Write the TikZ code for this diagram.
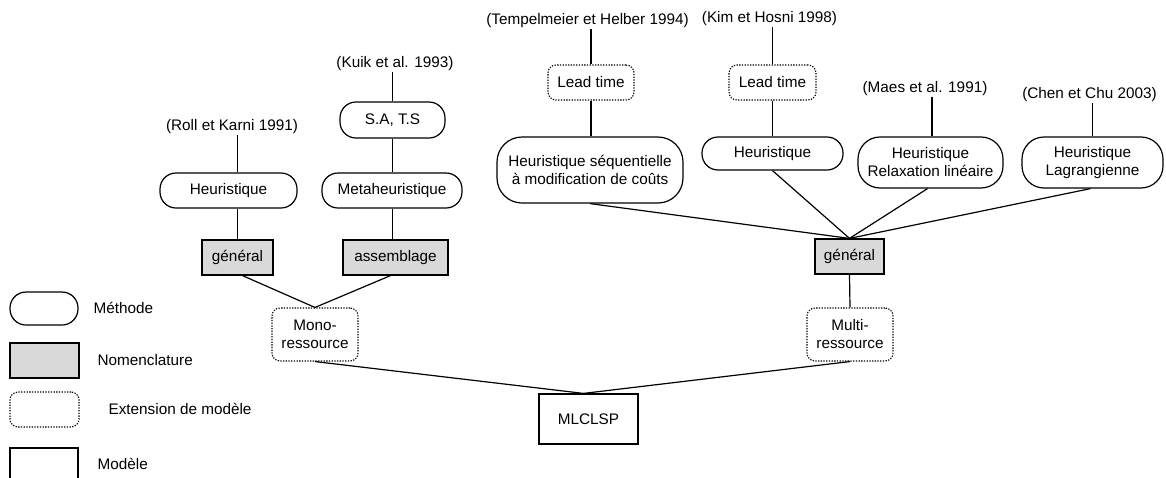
\documentclass[tikz,border=0pt]{standalone}
\usepackage{fontspec}
\setmainfont{Liberation Sans}
\begin{document}
\begin{tikzpicture}[x=1pt,y=-1pt,line width=1.2pt,
  every node/.style={font=\fontsize{15.3}{18}\selectfont, inner sep=0pt, align=center},
  meth/.style={draw, rectangle, rounded corners=16pt},
  nomen/.style={draw, rectangle, fill=gray!30},
  ext/.style={draw, rectangle, rounded corners=8pt, line width=1.1pt, dash pattern=on 1.3pt off 1.4pt},
  modl/.style={draw, rectangle},
  refn/.style={inner sep=0.5pt},
  lab/.style={anchor=west}]
\clip (0,0) rectangle (1166,477);
\fill[white] (0,0) rectangle (1166,477);
% legend
\node[meth, minimum width=68pt, minimum height=33pt] (lm) at (44,308.5) {};
\node[lab] (lmt) at (93,308) {Méthode};
\node[nomen, minimum width=69pt, minimum height=35pt] (ln) at (44.5,360.5) {};
\node[lab] (lnt) at (97,360) {Nomenclature};
\node[ext, minimum width=69pt, minimum height=35pt] (le) at (44.5,409.5) {};
\node[lab] (let) at (108,409) {Extension de modèle};
\node[modl, minimum width=68pt, minimum height=50pt] (lmo) at (44,473) {};
\node[lab] (lmot) at (97,464) {Modèle};
% left branch
\node[refn] (r1) at (232,127) {(Roll et Karni 1991)};
\node[meth, minimum width=137pt, minimum height=35pt] (h1) at (228.5,190.5) {Heuristique};
\node[nomen, minimum width=71pt, minimum height=35pt] (g1) at (237.5,257.5) {général};
\node[refn] (k1) at (395,63.5) {(Kuik et al. 1993)};
\node[meth, minimum width=105pt, minimum height=36pt] (s1) at (392.5,120) {S.A, T.S};
\node[meth, minimum width=140pt, minimum height=35pt] (m1) at (392,190.5) {Metaheuristique};
\node[nomen, minimum width=105pt, minimum height=35pt] (a1) at (395.5,257.5) {assemblage};
\node[ext, minimum width=86pt, minimum height=53pt] (mono) at (315,334.5) {Mono-\\ressource};
\node[modl, minimum width=99pt, minimum height=50pt] (ml) at (588.5,419) {MLCLSP};
% right branch
\node[refn] (tem) at (587.5,20.5) {(Tempelmeier et Helber 1994)};
\node[ext, minimum width=86pt, minimum height=35pt] (lt1) at (591,82.5) {Lead time};
\node[meth, rounded corners=25pt, minimum width=186pt, minimum height=66pt] (hs) at (590,170) {Heuristique séquentielle\\à modification de coûts};
\node[refn] (kim) at (769.5,19) {(Kim et Hosni 1998)};
\node[ext, minimum width=87pt, minimum height=35pt] (lt2) at (772.5,82.5) {Lead time};
\node[meth, minimum width=141pt, minimum height=33pt] (h2) at (772.5,153.5) {Heuristique};
\node[refn] (maes) at (925,88.5) {(Maes et al. 1991)};
\node[meth, rounded corners=22pt, minimum width=145pt, minimum height=51pt] (hr) at (930.5,162.5) {Heuristique\\Relaxation linéaire};
\node[refn] (chen) at (1089.5,95) {(Chen et Chu 2003)};
\node[meth, rounded corners=22pt, minimum width=141pt, minimum height=51pt] (hl) at (1092.5,162.5) {Heuristique\\Lagrangienne};
\node[nomen, minimum width=69pt, minimum height=35pt] (g2) at (849.5,256.5) {général};
\node[ext, minimum width=86pt, minimum height=53pt] (multi) at (850,334.5) {Multi-\\ressource};
% connectors left
\draw (r1.south -| g1.north) -- (h1.north -| g1.north);
\draw (h1.south -| g1.north) -- (g1.north);
\draw (k1.south -| s1.north) -- (s1.north);
\draw (s1.south) -- (s1.south |- m1.north);
\draw (m1.south -| s1.south) -- (a1.north -| s1.south);
\draw ([xshift=5pt]g1.south) -- (mono.north);
\draw ([xshift=-5pt]a1.south) -- (mono.north);
\draw (mono.south) -- ([xshift=-5pt]ml.north);
\draw (multi.south) -- ([xshift=-5pt]ml.north);
% connectors right
\draw (tem.south -| lt1.north) -- (lt1.north);
\draw (lt1.south) -- (lt1.south |- hs.north);
\draw (kim.south -| lt2.north) -- (lt2.north);
\draw (lt2.south) -- (lt2.south |- h2.north);
\draw ([xshift=1.5pt]maes.south -| hr.north) -- ([xshift=1.5pt]hr.north);
\draw (chen.south -| hl.north) -- (hl.north);
\draw (hs.south) -- (g2.north);
\draw (h2.south) -- (g2.north);
\draw ([xshift=-3pt]hr.south) -- (g2.north);
\draw ([xshift=-2pt]hl.south) -- (g2.north);
\draw (g2.south) -- (multi.north);
\end{tikzpicture}
\end{document}
